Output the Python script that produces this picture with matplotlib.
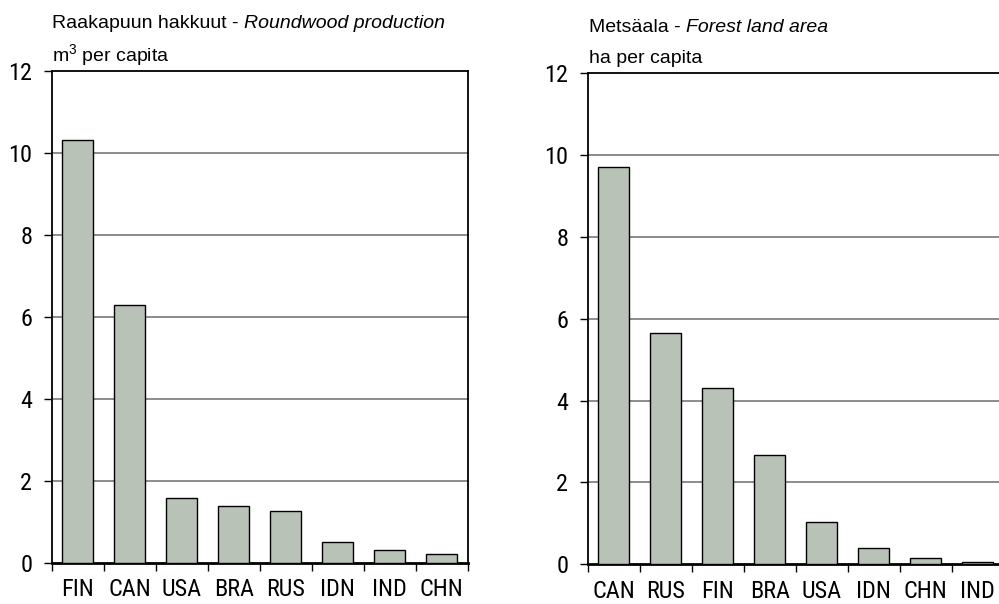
import matplotlib
matplotlib.use("Agg")
import matplotlib.pyplot as plt
import numpy as np

TICKFONT = ['Liberation Sans Narrow', 'Roboto Condensed', 'Liberation Sans', 'DejaVu Sans']
TITLEFONT = ['Liberation Sans', 'DejaVu Sans']
plt.rcParams['font.family'] = TITLEFONT
plt.rcParams['mathtext.fontset'] = 'custom'
plt.rcParams['mathtext.rm'] = 'Liberation Sans'
plt.rcParams['mathtext.it'] = 'Liberation Sans:italic'

# Left panel: roundwood production, m3 per capita
left_countries = ["FIN", "CAN", "USA", "BRA", "RUS", "IDN", "IND", "CHN"]
left_values = [10.31, 6.29, 1.58, 1.38, 1.26, 0.50, 0.31, 0.22]

# Right panel: forest land area, ha per capita
right_countries = ["CAN", "RUS", "FIN", "BRA", "USA", "IDN", "CHN", "IND"]
right_values = [9.71, 5.66, 4.31, 2.67, 1.03, 0.41, 0.15, 0.06]

yticks = [0, 2, 4, 6, 8, 10, 12]

BAR = '#b8c2b6'
GRID = '#6e6e6e'

fig = plt.figure(figsize=(9.99, 6.04), dpi=100)


def panel(rect, cats, vals):
    ax = fig.add_axes(rect)
    x = np.arange(len(cats))
    ax.bar(x, vals, width=0.6, color=BAR, edgecolor='black', linewidth=1.0, zorder=3)
    ax.set_xlim(-0.5, len(cats) - 0.5)
    ax.set_ylim(0, 12)
    ax.set_yticks(yticks)
    ax.set_yticklabels([str(t) for t in yticks], fontsize=17.5, family=TICKFONT)
    for t in yticks[1:-1]:
        ax.axhline(t, color=GRID, linewidth=1.1, zorder=1)
    ax.set_xticks(x)
    ax.set_xticklabels(cats, fontsize=17.5, family=TICKFONT)
    ax.set_xticks(np.arange(len(cats) + 1) - 0.5, minor=True)
    ax.tick_params(axis='x', which='major', length=0, pad=11)
    ax.tick_params(axis='x', which='minor', length=6, width=1.0, direction='out')
    ax.tick_params(axis='y', length=6, width=1.0, direction='out', pad=8)
    for s in ['top', 'right', 'left']:
        ax.spines[s].set_linewidth(1.3)
    ax.spines['bottom'].set_linewidth(2.0)
    return ax


ax1 = panel([0.0518, 0.0679, 0.4164, 0.8146], left_countries, left_values)
ax2 = panel([0.5883, 0.0657, 0.4164, 0.8134], right_countries, right_values)


def title(ax_left_px, base1_px, base2_px, fi, en, unit):
    t = fig.text(ax_left_px / 999, 1 - base1_px / 604, fi + ' - ', fontsize=14,
                 ha='left', va='baseline')
    fig.canvas.draw()
    bb = t.get_window_extent()
    fig.text(bb.x1 / 999, 1 - base1_px / 604, en, fontsize=14, style='italic',
             ha='left', va='baseline')
    fig.text(ax_left_px / 999, 1 - base2_px / 604, unit, fontsize=14,
             ha='left', va='baseline')


title(52, 28, 61, "Raakapuun hakkuut", "Roundwood production", r"m$^{3}$ per capita")
title(589, 32, 63, "Metsäala", "Forest land area", "ha per capita")

fig.savefig("out.png", dpi=100)
